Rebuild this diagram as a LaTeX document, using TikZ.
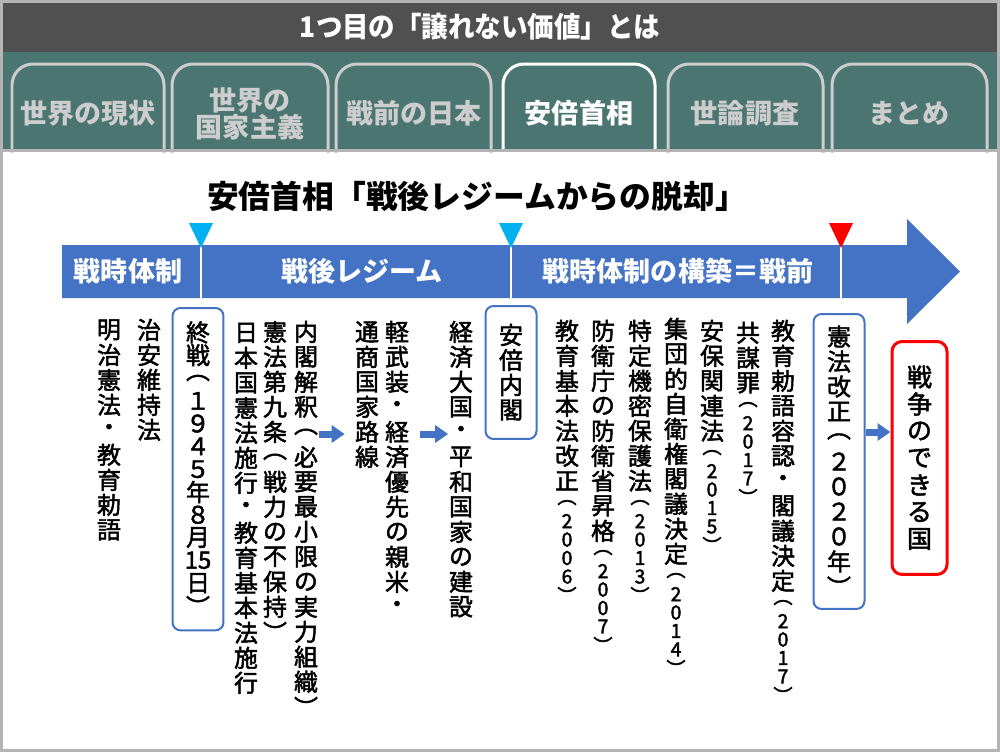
\documentclass[tikz,border=0pt]{standalone}
\usepackage{fontspec}
\setmainfont{Noto Sans CJK JP}
\newfontfamily\medfont[FakeBold=2]{Noto Sans CJK JP}
\usetikzlibrary{arrows.meta,positioning}

\definecolor{barblue}{HTML}{4472C4}
\definecolor{markcyan}{HTML}{00B0F0}
\definecolor{markred}{HTML}{FF0000}
\definecolor{hdrgray}{HTML}{505050}
\definecolor{hdrteal}{HTML}{4A7571}
\definecolor{tabgray}{HTML}{CDCDCD}
\definecolor{framegray}{HTML}{B4B4B4}

% vertical (tate) text: one cell per character, small cells for the year part
\makeatletter
\newcommand\tatecell[2]{\vbox to #1{\vss\hbox to 0.5cm{\hss#2\hss}\vss}}
\newcommand\tatecol[3]{\vbox{\offinterlineskip
  \@tfor\tch:=#2\do{\tatecell{#1}{\tch}}%
  \begingroup\fontsize{11}{11}\selectfont
  \@tfor\tch:=#3\do{\tatecell{0.37cm}{\tch}}\endgroup}}
\makeatother

\begin{document}
\begin{tikzpicture}[
  x=0.02cm, y=-0.02cm,
  col/.style={inner sep=0pt, anchor=north, font=\medfont\fontsize{13.6}{13.6}\selectfont},
  tbox/.style={col, draw=barblue, line width=0.04cm, rounded corners=0.16cm, inner xsep=0.26cm},
  goal/.style={col, draw=markred, line width=0.06cm, rounded corners=0.2cm, inner xsep=0.3cm, inner ysep=0.44cm,
    font=\medfont\fontsize{14.2}{14.2}\selectfont},
  barlbl/.style={text=white, font=\fontsize{15.4}{15.4}\selectfont\bfseries},
  tablbl/.style={text=tabgray, align=center, font=\fontsize{15.4}{15.6}\selectfont\bfseries},
  tab/.style={draw=tabgray, line width=0.06cm, rounded corners=0.42cm},
  divider/.style={draw=white, line width=0.04cm},
  blk/.style={draw=barblue, line width=0.14cm, -{Triangle[length=0.26cm,width=0.34cm]}}
]
\useasboundingbox (0,0) rectangle (1000,752);

% header and tabs
\fill[hdrgray] (0,0) rectangle (1000,52);
\fill[hdrteal] (0,52) rectangle (1000,150);
\fill[white] (0,150) rectangle (1000,752);
\node[text=white, font=\fontsize{16.2}{16.2}\selectfont\bfseries, xscale=0.93] (hdr) at (480,27) {1つ目の「譲れない価値」とは};

\foreach \xa/\xb in {12/164, 172/328, 336/491, 668/823, 832/987}
  \draw[tab] (\xa,153) |- (\xb,64) -- (\xb,153);
\draw[tab, draw=white] (503,153) |- (655,64) -- (655,153);

\node[tablbl] (tab1) at (88,113) {世界の現状};
\node[tablbl] (tab2) at (250,114) {世界の\\国家主義};
\node[tablbl] (tab3) at (414,113) {戦前の日本};
\node[tablbl, text=white] (tab4) at (579,113) {安倍首相};
\node[tablbl] (tab5) at (745,113) {世論調査};
\node[tablbl] (tab6) at (909,113) {まとめ};

\draw[framegray, line width=0.06cm] (0,150.5) -- (1000,150.5);
\draw[framegray, line width=0.06cm] (1.5,1.5) rectangle (998.5,750.5);

% title
\node[font=\fontsize{18.1}{18.1}\selectfont\bfseries] (title) at (477,196) {安倍首相「戦後レジームからの脱却」};

% timeline bar
\fill[barblue] (62,245) -- (907,245) -- (907,219) -- (960,271.5) -- (907,324) -- (907,298) -- (62,298) -- cycle;
\foreach \x/\c in {201/markcyan, 511/markcyan, 841/markred} {
  \draw[divider] (\x,246) -- (\x,298);
  \fill[\c] (\x-12,223) -- (\x+12,223) -- (\x,248) -- cycle;
}
\node[barlbl] (war) at (128,271.5) {戦時体制};
\node[barlbl] (regime) at (362,271.5) {戦後レジーム};
\node[barlbl] (prewar) at (678,271.5) {戦時体制の構築＝戦前};

% columns
\node[col] (meiji) at (109,317) {\tatecol{0.5cm}{明治憲法・教育勅語}{}};
\node[col] (chian) at (149,317) {\tatecol{0.5cm}{治安維持法}{}};
\node[tbox, inner ysep=0.26cm] (shusen) at (198,307) {\tatecol{0.456cm}{終戦︵１９４５年８月{15}日︶}{}};
\node[col] (shiko) at (246,320) {\tatecol{0.5cm}{日本国憲法施行・教育基本法施行}{}};
\node[col] (kyujo) at (275,319) {\tatecol{0.5cm}{憲法第九条︵戦力の不保持︶}{}};
\node[col] (kaishaku) at (306,319) {\tatecol{0.5cm}{内閣解釈︵必要最小限の実力組織︶}{}};
\node[col] (tsusho) at (367,319) {\tatecol{0.5cm}{通商国家路線}{}};
\node[col] (gunbi) at (397,319) {\tatecol{0.5cm}{軽武装・経済優先の親米・}{}};
\node[col] (taikoku) at (461,319) {\tatecol{0.5cm}{経済大国・平和国家の建設}{}};
\node[tbox, inner ysep=0.33cm] (abe) at (511,305) {\tatecol{0.5cm}{安倍内閣}{}};
\node[col] (kyoiku) at (567,318) {\tatecol{0.5cm}{教育基本法改正}{︵2006︶}};
\node[col] (boei) at (603,318) {\tatecol{0.5cm}{防衛庁の防衛省昇格}{︵2007︶}};
\node[col] (himitsu) at (640,318) {\tatecol{0.5cm}{特定機密保護法}{︵2013︶}};
\node[col] (shudan) at (676,316) {\tatecol{0.5cm}{集団的自衛権閣議決定}{︵2014︶}};
\node[col] (anpo) at (712,318) {\tatecol{0.5cm}{安保関連法}{︵2015︶}};
\node[col] (kyobo) at (748,320) {\tatecol{0.5cm}{共謀罪}{︵2017︶}};
\node[col] (chokugo) at (783,318) {\tatecol{0.5cm}{教育勅語容認・閣議決定}{︵2017︶}};
\node[tbox, inner ysep=0.2cm] (kaiken) at (839,313) {\tatecol{0.5cm}{憲法改正︵２０２０年︶}{}};
\node[goal] (senso) at (919.5,340) {\tatecol{0.54cm}{戦争のできる国}{}};

% arrows
\draw[blk, shorten >=0.19cm] (kaishaku.east |- 0,434) -- (tsusho.west |- 0,434);
\draw[blk, shorten <=0.2cm] (gunbi.east |- 0,434) -- (taikoku.west |- 0,434);
\draw[blk] (kaiken.east |- 0,432) -- (senso.west |- 0,432);
\end{tikzpicture}
\end{document}
